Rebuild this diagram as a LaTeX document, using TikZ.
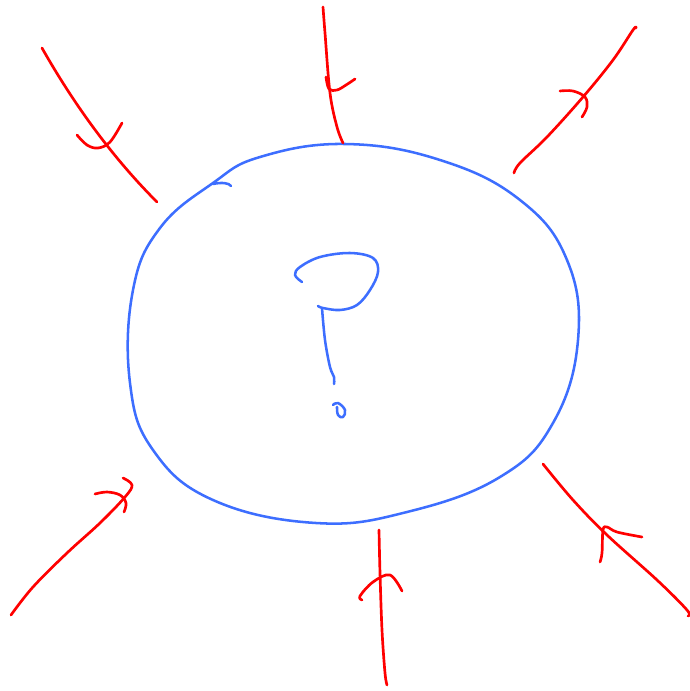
\documentclass[tikz,border=0pt]{standalone}
\usepackage{tikz}
\definecolor{inkblue}{HTML}{3D6EFF}
\definecolor{inkred}{HTML}{FF0000}

\begin{document}
\begin{tikzpicture}[x=0.025cm,y=-0.025cm,
  blueink/.style={draw=inkblue,line width=1.8pt,line cap=round,line join=round},
  redink/.style={draw=inkred,line width=1.9pt,line cap=round,line join=round}]
\useasboundingbox (0,0) rectangle (690,691);
\draw[blueink] plot[smooth cycle,tension=0.7] coordinates {(213,183) (260,157) (345,144) (440,160) (520,200) (567,260) (578,340) (553,423) (500,477) (407,512) (316,523) (213,500) (153,450) (130,383) (133,290) (160,228)};
\draw[blueink] (213,184) .. controls (222,182) and (229,183) .. (231,186);
\draw[blueink] plot[smooth,tension=0.6] coordinates {(302,282) (295,275) (300,267) (320,257) (350,253) (373,258) (378,272) (370,290) (357,305) (340,310) (323,308) (318,306)};
\draw[blueink] plot[smooth,tension=0.6] coordinates {(322,308) (325,340) (330,367) (334,377) (334,384)};
\draw[blueink] plot[smooth,tension=0.7] coordinates {(333,405) (338,403) (345,410) (343,417) (338,415) (337,407)};
\draw[redink] (42,48) .. controls (80,115) and (120,165) .. (157,202);
\draw[redink] plot[smooth,tension=0.6] coordinates {(77,135) (87,145) (98,148) (110,142) (122,123)};
\draw[redink] plot[smooth,tension=0.6] coordinates {(323,7) (325,33) (330,93) (337,127) (343,143)};
\draw[redink] plot[smooth,tension=0.6] coordinates {(326,77) (329,89) (337,90) (346,85) (355,79)};
\draw[redink] plot[smooth,tension=0.6] coordinates {(514,173) (520,163) (547,137) (583,97) (613,60) (633,30) (636,28)};
\draw[redink] plot[smooth,tension=0.6] coordinates {(560,91) (573,91) (585,97) (587,107) (582,117)};
\draw[redink] plot[smooth,tension=0.6] coordinates {(11,615) (33,587) (67,553) (100,523) (125,497) (132,485) (123,478)};
\draw[redink] plot[smooth,tension=0.6] coordinates {(95,494) (107,492) (120,495) (126,503) (124,512)};
\draw[redink] plot[smooth,tension=0.6] coordinates {(379,530) (380,573) (382,630) (385,673) (387,685)};
\draw[redink] plot[smooth,tension=0.6] coordinates {(362,600) (360,596) (373,582) (390,575) (402,591)};
\draw[redink] plot[smooth,tension=0.6] coordinates {(543,464) (573,500) (607,535) (657,580) (687,610) (688,616)};
\draw[redink] plot[smooth,tension=0.6] coordinates {(600,562) (602,553) (603,530) (607,527) (617,532) (642,537)};
\end{tikzpicture}
\end{document}
